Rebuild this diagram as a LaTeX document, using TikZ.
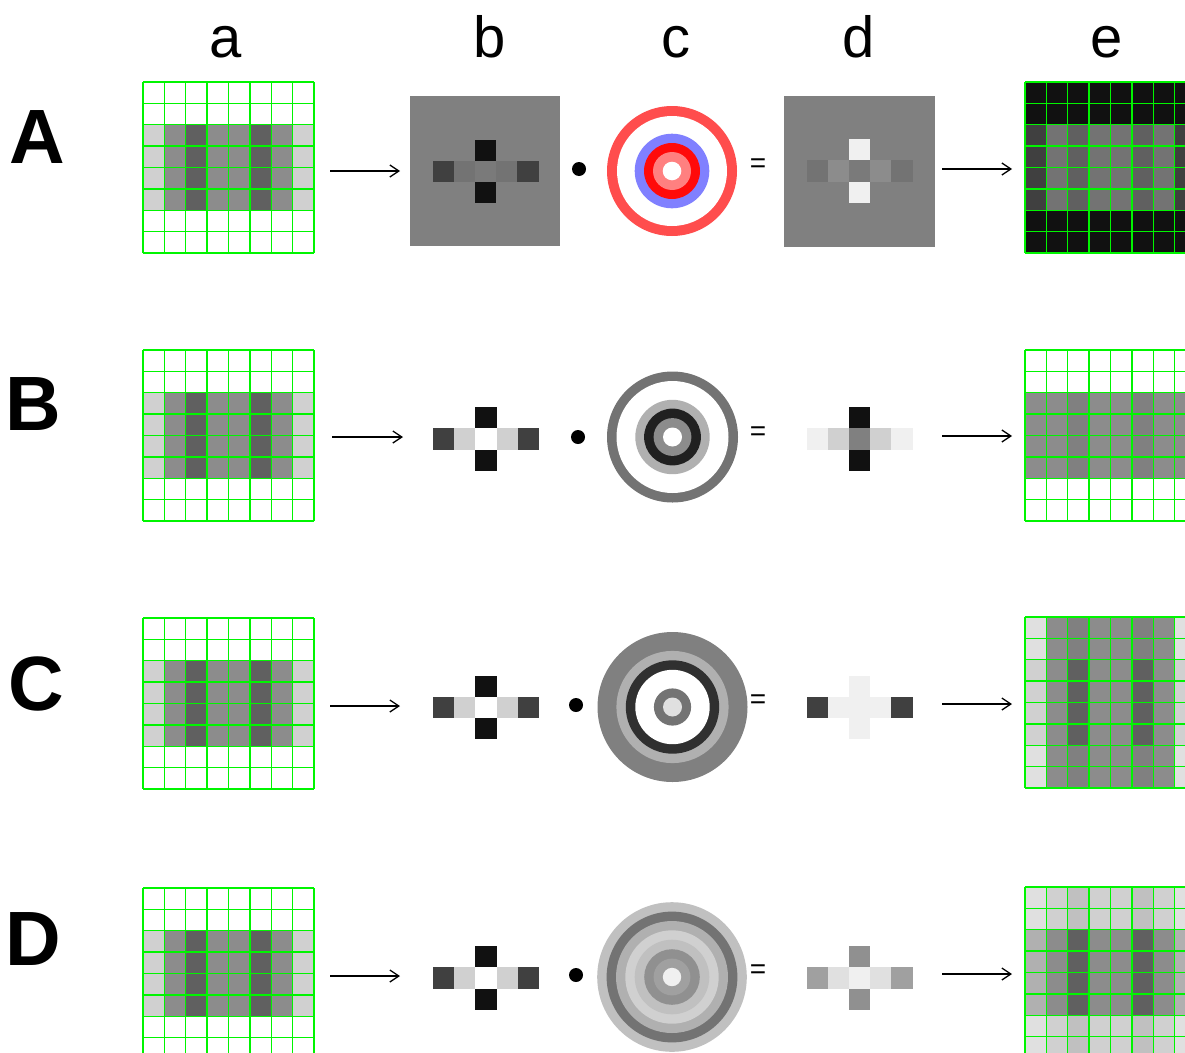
\documentclass[tikz,border=0pt]{standalone}
\usepackage{fontspec}
\setmainfont{Liberation Sans}
\usetikzlibrary{arrows.meta}

\definecolor{k11}{HTML}{111111}
\definecolor{g20}{HTML}{202020}
\definecolor{g30}{HTML}{303030}
\definecolor{g40}{HTML}{404040}
\definecolor{g60}{HTML}{606060}
\definecolor{g70}{HTML}{737373}
\definecolor{g7a}{HTML}{7A7A7A}
\definecolor{g80}{HTML}{808080}
\definecolor{g8c}{HTML}{8C8C8C}
\definecolor{g90}{HTML}{909090}
\definecolor{ga0}{HTML}{A0A0A0}
\definecolor{gb0}{HTML}{B0B0B0}
\definecolor{gc0}{HTML}{C0C0C0}
\definecolor{gd0}{HTML}{D0D0D0}
\definecolor{ge0}{HTML}{E0E0E0}
\definecolor{gf0}{HTML}{F0F0F0}
\definecolor{ringred}{HTML}{FF4D4D}
\definecolor{ringblue}{HTML}{8080FF}
\definecolor{ringpink}{HTML}{FF8080}
\definecolor{coreRed}{HTML}{FF0A0A}
\definecolor{gridgreen}{HTML}{00F500}

\newcommand{\cellsz}{21.375}
% 8x8 pixel grid: #1,#2 top left; #3 colours of rows 1,2,7,8; #4 colours of rows 3--6
\newcommand{\pixgrid}[4]{%
  \foreach \col [count=\i from 0] in {#3}
    \foreach \j in {0,1,6,7}
      \fill[\col] ({#1+\i*\cellsz},{#2+\j*\cellsz}) rectangle ++(\cellsz,\cellsz);
  \foreach \col [count=\i from 0] in {#4}
    \foreach \j in {2,3,4,5}
      \fill[\col] ({#1+\i*\cellsz},{#2+\j*\cellsz}) rectangle ++(\cellsz,\cellsz);
  \foreach \k in {0,...,8} {
    \draw[gridline] ({#1+\k*\cellsz},#2) -- ++(0,{8*\cellsz});
    \draw[gridline] (#1,{#2+\k*\cellsz}) -- ++({8*\cellsz},0);
  }
}
% cross kernel: #1,#2 centre; #3 top/bottom; #4 outer; #5 inner; #6 centre
\newcommand{\pixcross}[6]{%
  \fill[#3] ({#1-10.6},{#2-31.8}) rectangle ++(21.2,21.2);
  \fill[#3] ({#1-10.6},{#2+10.6}) rectangle ++(21.2,21.2);
  \fill[#4] ({#1-53},{#2-10.6}) rectangle ++(21.2,21.2);
  \fill[#5] ({#1-31.8},{#2-10.6}) rectangle ++(21.2,21.2);
  \fill[#6] ({#1-10.6},{#2-10.6}) rectangle ++(21.2,21.2);
  \fill[#5] ({#1+10.6},{#2-10.6}) rectangle ++(21.2,21.2);
  \fill[#4] ({#1+31.8},{#2-10.6}) rectangle ++(21.2,21.2);
}
% concentric discs, largest first: radius/colour
\newcommand{\rings}[3]{%
  \foreach \r/\c in {#3}
    \fill[\c] (#1,#2) circle[radius=\r pt];
}

\begin{document}
\begin{tikzpicture}[x=1pt,y=-1pt,
  collabel/.style={font=\fontsize{58}{60}\selectfont,inner sep=0pt,anchor=base},
  rowlabel/.style={font=\fontsize{77}{80}\selectfont\bfseries,inner sep=0pt,anchor=base},
  eqsign/.style={font=\fontsize{28}{30}\selectfont,inner sep=0pt},
  gridline/.style={gridgreen,line width=1.3pt},
  arrow/.style={-{Straight Barb[length=9pt,width=12pt]},line width=1.3pt},
  dotmark/.style={circle,fill=black,inner sep=0pt,minimum size=14pt}]

\useasboundingbox (0,0) rectangle (1185,1052);
\clip (0,0) rectangle (1185,1052);

% column and row labels
\node[collabel] (col-a) at (226,57) {a};
\node[collabel] (col-b) at (490,57) {b};
\node[collabel] (col-c) at (676,57) {c};
\node[collabel] (col-d) at (859,57) {d};
\node[collabel] (col-e) at (1107,57) {e};

\node[rowlabel] (row-A) at (37,163) {A};
\node[rowlabel] (row-B) at (33,430) {B};
\node[rowlabel] (row-C) at (36,710) {C};
\node[rowlabel] (row-D) at (33,965) {D};

% column a: input images
\foreach \y in {82,350,618,888} {
  \pixgrid{143}{\y}{white,white,white,white,white,white,white,white}{gd0,g8c,g60,g8c,g8c,g60,g8c,gd0}
}

% row A
\fill[g80] (410,96) rectangle (560,246);
\pixcross{485.5}{171.5}{k11}{g40}{g70}{g7a}
\node[dotmark] (dot-A) at (579,169) {};
\rings{672}{171}{65/ringred,55/white,37.3/ringblue,28/coreRed,19/ringpink,9.3/white}
\node[eqsign] (eq-A) at (758,166) {=};
\fill[g80] (784,96) rectangle (935,247);
\pixcross{859.5}{171}{gf0}{g70}{g8c}{g7a}
\pixgrid{1025}{82}{k11,k11,k11,k11,k11,k11,k11,k11}{g40,g70,g60,g70,g70,g60,g70,g40}

% row B
\pixcross{486}{439}{k11}{g40}{gd0}{white}
\node[dotmark] (dot-B) at (578,437) {};
\rings{672.5}{437}{65.5/g70,56/white,37.2/gb0,28.4/g20,18.9/g8c,9.5/white}
\node[eqsign] (eq-B) at (758,434) {=};
\pixcross{859.5}{439}{k11}{gf0}{gd0}{g80}
\pixgrid{1025}{350}{white,white,white,white,white,white,white,white}{g8c,g8c,g80,g8c,g8c,g80,g8c,g8c}

% row C
\pixcross{486}{707.5}{k11}{g40}{gd0}{white}
\node[dotmark] (dot-C) at (576,705) {};
\rings{672.5}{707}{75/g80,56.1/gb0,46.7/g30,37.2/white,18.6/g70,9.5/ge0}
\node[eqsign] (eq-C) at (758,702) {=};
\pixcross{859.5}{707.5}{gf0}{g40}{gf0}{gf0}
\pixgrid{1025}{617}{ge0,g8c,g80,g8c,g8c,g80,g8c,ge0}{gd0,g8c,g60,g8c,g8c,g60,g8c,gd0}

% row D
\pixcross{486}{978}{k11}{g40}{gd0}{white}
\node[dotmark] (dot-D) at (576,975) {};
\rings{672}{977}{74.8/gc0,65.4/g70,56/gb0,46.7/gd0,37.3/gc0,27.8/g90,18.4/ga0,9.2/gf0}
\node[eqsign] (eq-D) at (758,972) {=};
\pixcross{859.5}{978}{g90}{ga0}{ge0}{gf0}
\pixgrid{1025}{887}{ge0,gd0,gc0,gd0,gd0,gc0,gd0,ge0}{gb0,g8c,g60,g8c,g8c,g60,g8c,gb0}

% arrows
\coordinate (A-in)  at (330,171);  \coordinate (A-mid) at (400,171);
\coordinate (B-in)  at (332,437);  \coordinate (B-mid) at (403,437);
\coordinate (C-in)  at (330,706);  \coordinate (C-mid) at (400,706);
\coordinate (D-in)  at (330,976);  \coordinate (D-mid) at (400,976);
\coordinate (A-out) at (942,169);  \coordinate (A-end) at (1012,169);
\coordinate (B-out) at (942,436);  \coordinate (B-end) at (1012,436);
\coordinate (C-out) at (942,704);  \coordinate (C-end) at (1012,704);
\coordinate (D-out) at (942,974);  \coordinate (D-end) at (1012,974);

\foreach \r in {A,B,C,D} {
  \draw[arrow] (\r-in) -- (\r-mid);
  \draw[arrow] (\r-out) -- (\r-end);
}

\end{tikzpicture}
\end{document}
